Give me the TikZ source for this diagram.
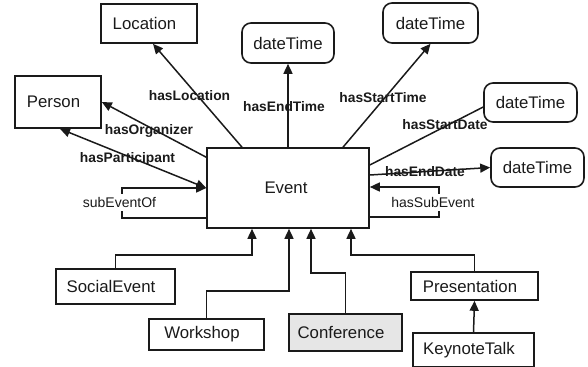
\documentclass[tikz,border=0pt]{standalone}
\usepackage{fontspec}
\setmainfont{Liberation Sans}
\usetikzlibrary{arrows.meta}
\definecolor{ink}{HTML}{1A1A1A}
\definecolor{confgray}{HTML}{E6E6E6}
\newcommand\lftshift[1]{\hspace*{-9bp}#1}
\tikzset{
  box/.style={draw=ink, line width=1.6bp, inner sep=0pt, font=\fontsize{16.8bp}{19bp}\selectfont, text=ink},
  rbox/.style={box, rounded corners=9bp},
  conn/.style={draw=ink, line width=1.5bp},
  tip/.style={-{Triangle[length=10bp,width=9bp]}},
  lbl/.style={font=\bfseries\fontsize{13.8bp}{16bp}\selectfont, text=ink, inner sep=0pt},
  plbl/.style={font=\fontsize{14bp}{16bp}\selectfont, text=ink, fill=white, inner xsep=1bp, inner ysep=3bp},
}
\begin{document}
\begin{tikzpicture}[x=1bp,y=-1bp]
\useasboundingbox (0,0) rectangle (588,366);
% nodes
\node[box, minimum width=96bp, minimum height=39bp] (loc) at (149,23.5) {\lftshift{Location}};
\node[box, minimum width=86bp, minimum height=52bp] (per) at (58,102) {\lftshift{Person}};
\node[rbox, minimum width=92bp, minimum height=40bp] (dt1) at (288,43) {dateTime};
\node[rbox, minimum width=95bp, minimum height=40bp] (dt2) at (430.5,23) {dateTime};
\node[rbox, minimum width=93bp, minimum height=39bp] (dt3) at (530.5,102.5) {dateTime};
\node[rbox, minimum width=93bp, minimum height=39bp] (dt4) at (537.5,167.5) {dateTime};
\node[box, minimum width=162bp, minimum height=80bp] (ev) at (288,188) {\hspace*{-4bp}Event};
\node[box, minimum width=119bp, minimum height=35bp] (soc) at (115.5,286.5) {\lftshift{SocialEvent}};
\node[box, minimum width=115bp, minimum height=31bp] (ws) at (206.5,334.5) {\lftshift{Workshop}};
\node[box, fill=confgray, minimum width=113bp, minimum height=37bp] (conf) at (345.5,332.5) {\lftshift{Conference}};
\node[box, minimum width=127bp, minimum height=28bp] (pres) at (474.5,286) {\lftshift{Presentation}};
\node[box, minimum width=121bp, minimum height=34bp] (key) at (473.5,350) {\lftshift{KeynoteTalk}};
% property connectors
\draw[conn, tip] ([xshift=-46bp]ev.north) -- ([xshift=4bp]loc.south);
\draw[conn, tip] (ev.north) -- (dt1.south);
\draw[conn, tip] ([xshift=55bp]ev.north) -- (dt2.south);
\draw[conn] ([yshift=23bp]ev.east) -- ([yshift=-4.5bp]dt3.west);
\draw[conn, tip] ([yshift=13bp]ev.east) -- (dt4.west);
\draw[conn, tip] ([yshift=-10bp]ev.north west) -- (per.east);
\draw[conn, {Triangle[length=10bp,width=9bp]}-{Triangle[length=10bp,width=9bp]}] ([xshift=2bp]per.south) -- (ev.west);
% brackets
\draw[conn, tip] ([yshift=-30bp]ev.west) -- ++(-84,0) coordinate (sl) |- (ev.west);
\draw[conn, tip] ([yshift=-29bp]ev.east) -- ++(69,0) coordinate (sr) |- ([yshift=1bp]ev.east);
% labels
\node[lbl] (lLoc) at (189.5,96) {hasLocation};
\node[lbl] (lEnd) at (284,107) {hasEndTime};
\node[lbl] (lST) at (383,98) {hasStartTime};
\node[lbl] (lSD) at (445,125) {hasStartDate};
\node[lbl] (lED) at (425,172) {hasEndDate};
\node[lbl] (lOrg) at (149,131) {hasOrganizer};
\node[lbl] (lPar) at (127.5,159) {hasParticipant};
\node[plbl] (lSub) at (119.5,202.5) {subEventOf};
\node[plbl] (lHas) at (433,202.5) {hasSubEvent};
% subclass connectors
\draw[conn, tip] (soc.north) -- ++(0,-13) -| ([xshift=-36bp]ev.south);
\draw[conn, tip] (ws.north) -- ++(0,-27) -| ([xshift=1bp]ev.south);
\draw[conn, tip] (conf.north) -- ++(0,-40) -| ([xshift=23bp]ev.south);
\draw[conn, tip] (pres.north) -- ++(0,-16) -| ([xshift=63bp]ev.south);
\draw[conn, tip] (key.north) -- (pres.south);
\end{tikzpicture}
\end{document}
